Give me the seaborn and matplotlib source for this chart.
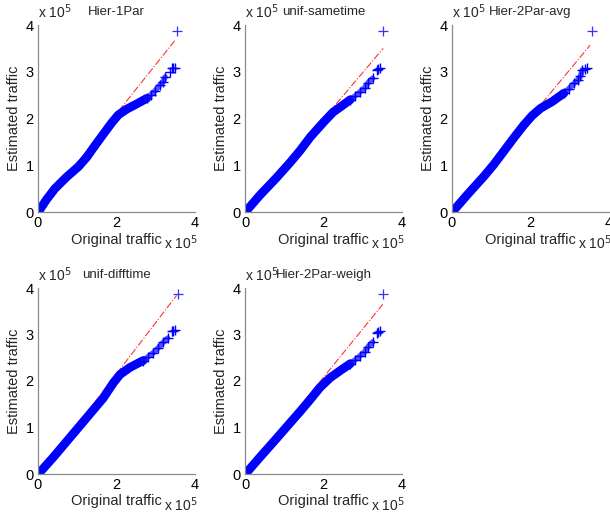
import matplotlib
matplotlib.use("Agg")
import matplotlib.pyplot as plt
import seaborn as sns
import numpy as np
import pandas as pd

# Values in units of 10^5 (as the axes show "x 10^5")
titles = ["Hier-1Par", "unif-sametime", "Hier-2Par-avg", "unif-difftime", "Hier-2Par-weigh"]

# dense part of the Q-Q band (original quantile, estimated quantile)
band_x = [
    [0.03, 0.22, 0.43, 0.73, 1.03, 1.24, 1.45, 1.66, 1.88, 2.05, 2.26, 2.51, 2.77],
    [0.04, 0.38, 0.81, 1.15, 1.40, 1.66, 2.00, 2.25, 2.42, 2.68],
    [0.04, 0.38, 0.81, 1.06, 1.32, 1.57, 1.83, 2.04, 2.26, 2.55, 2.85],
    [0.04, 0.39, 0.73, 1.07, 1.41, 1.66, 1.92, 2.09, 2.34, 2.68],
    [0.04, 0.38, 0.81, 1.15, 1.40, 1.66, 1.91, 2.17, 2.42, 2.68],
]
band_y = [
    [0.03, 0.27, 0.50, 0.75, 0.97, 1.17, 1.42, 1.66, 1.91, 2.08, 2.20, 2.31, 2.43],
    [0.03, 0.36, 0.74, 1.06, 1.31, 1.60, 1.92, 2.14, 2.24, 2.40],
    [0.03, 0.36, 0.76, 1.01, 1.30, 1.58, 1.86, 2.06, 2.22, 2.36, 2.54],
    [0.03, 0.36, 0.70, 1.04, 1.38, 1.63, 1.96, 2.14, 2.29, 2.44],
    [0.03, 0.36, 0.77, 1.10, 1.34, 1.60, 1.86, 2.07, 2.22, 2.37],
]
# sparse upper tail of the Q-Q points
tail_x = [
    [2.77, 2.88, 2.98, 3.11, 3.19, 3.24, 3.36, 3.41, 3.45, 3.49],
    [2.68, 2.80, 2.93, 3.05, 3.14, 3.25, 3.36, 3.40, 3.44],
    [2.85, 2.98, 3.11, 3.20, 3.27, 3.32, 3.40, 3.45],
    [2.68, 2.80, 2.94, 3.07, 3.19, 3.30, 3.41, 3.45, 3.49],
    [2.68, 2.80, 2.93, 3.05, 3.14, 3.25, 3.36, 3.40, 3.44],
]
tail_y = [
    [2.43, 2.51, 2.59, 2.72, 2.79, 2.89, 3.00, 3.07, 3.07, 3.07],
    [2.40, 2.48, 2.57, 2.66, 2.77, 2.86, 3.04, 3.05, 3.07],
    [2.54, 2.64, 2.75, 2.82, 2.90, 3.04, 3.05, 3.07],
    [2.44, 2.52, 2.61, 2.72, 2.83, 2.92, 3.08, 3.08, 3.09],
    [2.37, 2.45, 2.54, 2.63, 2.74, 2.84, 3.04, 3.06, 3.08],
]
# maximum points
max_x = [3.53, 3.52, 3.57, 3.56, 3.51]
max_y = [3.87, 3.87, 3.87, 3.88, 3.88]
# reference (quartile) lines
ref_x = [[0.0, 3.50], [0.0, 3.52], [0.0, 3.52], [0.0, 3.53], [0.0, 3.51]]
ref_y = [[0.0, 3.68], [0.0, 3.50], [0.0, 3.57], [-0.05, 3.84], [0.0, 3.65]]

x_ticks = [0, 2, 4]
y_ticks = [0, 1, 2, 3, 4]

sns.set_style("white")
plt.rcParams["font.family"] = ["Liberation Sans", "DejaVu Sans"]

fig = plt.figure(figsize=(6.1, 5.17), dpi=100)
W, H = 610.0, 517.0
lefts = [38, 245, 452, 38, 245]
tops = [25, 25, 25, 288, 288]
bottoms = [212, 212, 212, 474, 474]
axw = 157

for i in range(5):
    ax = fig.add_axes([lefts[i] / W, 1 - bottoms[i] / H, axw / W, (bottoms[i] - tops[i]) / H])
    sns.lineplot(x=ref_x[i], y=ref_y[i], ax=ax, color=(1, 0, 0), linestyle="-.",
                 linewidth=0.8, alpha=0.8, sort=False, estimator=None, zorder=1)
    sns.lineplot(x=band_x[i], y=band_y[i], ax=ax, color=(0, 0, 1), linewidth=6.3,
                 sort=False, estimator=None, zorder=2, solid_capstyle="round",
                 solid_joinstyle="round")
    sns.lineplot(x=tail_x[i][:6], y=tail_y[i][:6], ax=ax, color=(0.1, 0.1, 1), linewidth=4,
                 alpha=0.75, sort=False, estimator=None, zorder=2, solid_capstyle="round")
    sns.scatterplot(x=tail_x[i], y=tail_y[i], ax=ax, marker="+", color=(0, 0, 1),
                    s=50, linewidth=1.0, zorder=3)
    sns.scatterplot(x=[max_x[i]], y=[max_y[i]], ax=ax, marker="+", color=(0.2, 0.2, 1),
                    s=55, linewidth=0.9, zorder=3)
    ax.set_xlim(0, 4)
    ax.set_ylim(0, 4)
    ax.set_xticks(x_ticks)
    ax.set_yticks(y_ticks)
    ax.set_xticklabels([str(t) for t in x_ticks])
    ax.set_yticklabels([str(t) for t in y_ticks])
    for s in ["top", "right"]:
        ax.spines[s].set_visible(False)
    for s in ["left", "bottom"]:
        ax.spines[s].set_color("#8a8a8a")
        ax.spines[s].set_linewidth(0.9)
    ax.tick_params(direction="in", length=3, color="#8a8a8a", labelsize=10.5,
                   pad=3, labelcolor="black")
    ax.set_xlabel("Original traffic", fontsize=10.5)
    ax.set_ylabel("Estimated traffic", fontsize=10.5)
    ax.xaxis.set_label_coords(0.5, -0.11)
    ax.yaxis.set_label_coords(-0.11, 0.5)
    ax.set_title(titles[i], fontsize=9.5, pad=7)
    ax.text(0.0, 1.035, "x 10$^5$", transform=ax.transAxes, ha="left", va="baseline",
            fontsize=10)
    ax.text(1.015, -0.2, "x 10$^5$", transform=ax.transAxes, ha="right", va="baseline",
            fontsize=10)
    ax.set_facecolor("white")

fig.savefig("out.png", dpi=100, facecolor="white")
